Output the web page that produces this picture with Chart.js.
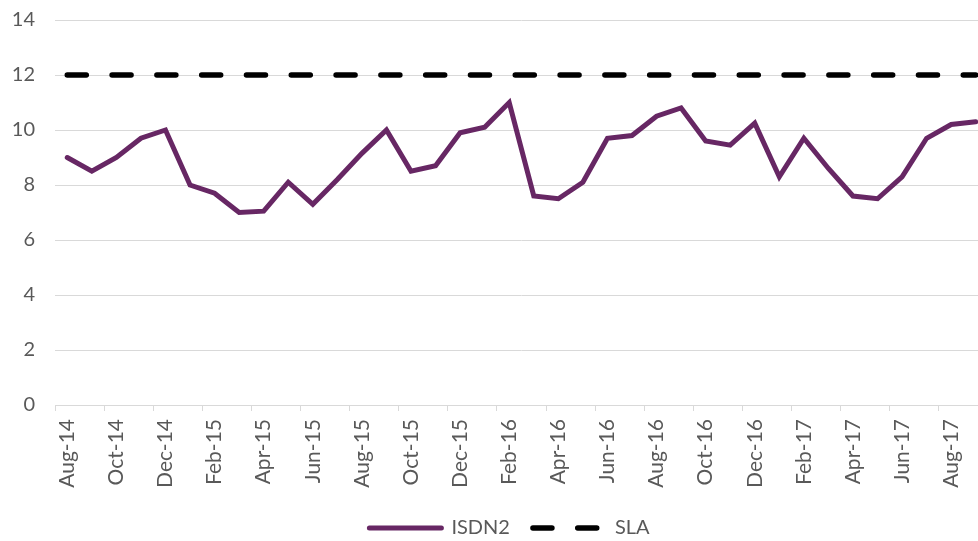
<!DOCTYPE html>
<html>
<head>
<meta charset="utf-8">
<title>ISDN2 vs SLA</title>
<script src="https://cdn.jsdelivr.net/npm/chart.js@4/dist/chart.umd.min.js"></script>
<style>
  html, body { margin: 0; padding: 0; background: #ffffff; }
  #frame { width: 978px; height: 541px; overflow: hidden; position: relative; background: #ffffff; }
  #chart { position: absolute; left: 0; top: 0; }
</style>
</head>
<body>
<div id="frame"><canvas id="chart" width="1019" height="548"></canvas></div>
<script>
// Monthly categories, Aug-14 through Sep-17
const months = [
  'Aug-14','Sep-14','Oct-14','Nov-14','Dec-14',
  'Jan-15','Feb-15','Mar-15','Apr-15','May-15','Jun-15','Jul-15','Aug-15','Sep-15','Oct-15','Nov-15','Dec-15',
  'Jan-16','Feb-16','Mar-16','Apr-16','May-16','Jun-16','Jul-16','Aug-16','Sep-16','Oct-16','Nov-16','Dec-16',
  'Jan-17','Feb-17','Mar-17','Apr-17','May-17','Jun-17','Jul-17','Aug-17','Sep-17'
];

// ISDN2 monthly values
const isdn2 = [
  9.0, 8.5, 9.0, 9.7, 10.0,
  8.0, 7.7, 7.0, 7.05, 8.1, 7.3, 8.2, 9.15, 10.0, 8.5, 8.7, 9.9,
  10.1, 11.0, 7.6, 7.5, 8.1, 9.7, 9.8, 10.5, 10.8, 9.6, 9.45, 10.25,
  8.3, 9.7, 8.6, 7.6, 7.5, 8.3, 9.7, 10.2, 10.3
];

// Service level target
const slaLevel = 12;
const sla = months.map(() => slaLevel);

// Value axis ticks
const yMin = 0;
const yMax = 14;
const yStep = 2;

const textColor = '#595959';
const gridColor = '#d9d9d9';
const fontFamily = 'Lato, "Open Sans", sans-serif';

new Chart(document.getElementById('chart'), {
  type: 'line',
  data: {
    labels: months,
    datasets: [
      {
        label: 'ISDN2',
        data: isdn2,
        borderColor: '#672764',
        backgroundColor: '#672764',
        borderWidth: 5,
        borderCapStyle: 'round',
        pointRadius: 0,
        tension: 0,
        fill: false
      },
      {
        label: 'SLA',
        data: sla,
        borderColor: '#000000',
        backgroundColor: '#000000',
        borderWidth: 5.5,
        borderDash: [19, 25.8],
        borderCapStyle: 'round',
        pointRadius: 0,
        tension: 0,
        fill: false
      }
    ]
  },
  options: {
    responsive: false,
    animation: false,
    devicePixelRatio: 1,
    layout: { padding: { top: 20, left: 0, right: 0, bottom: 0 } },
    plugins: {
      tooltip: { enabled: false },
      legend: {
        position: 'bottom',
        align: 'center',
        labels: {
          usePointStyle: true,
          pointStyle: 'line',
          pointStyleWidth: 72,
          boxHeight: 20,
          padding: 23,
          color: textColor,
          font: { family: fontFamily, size: 20 },
          // legend samples carry the line's own dash, width and caps
          generateLabels: chart => {
            const items = Chart.defaults.plugins.legend.labels.generateLabels(chart);
            items.forEach(item => {
              const ds = chart.data.datasets[item.datasetIndex];
              item.lineDash = ds.borderDash || [];
              item.lineCap = ds.borderCapStyle || 'butt';
              item.lineWidth = ds.borderWidth;
              item.strokeStyle = ds.borderColor;
            });
            return items;
          }
        }
      }
    },
    scales: {
      x: {
        type: 'category',
        offset: true,
        grid: {
          offset: true,
          drawOnChartArea: false,
          drawTicks: true,
          tickLength: 6,
          color: ctx => (ctx.index % 2 === 0 ? gridColor : 'rgba(0,0,0,0)')
        },
        border: { display: true, color: gridColor, width: 1 },
        ticks: {
          autoSkip: false,
          minRotation: 90,
          maxRotation: 90,
          padding: 8,
          color: textColor,
          font: { family: fontFamily, size: 21 },
          callback: (value, index) => (index % 2 === 0 ? months[index] : '')
        },
        afterFit: scale => { scale.height = 90; }
      },
      y: {
        min: yMin,
        max: yMax,
        grid: { color: gridColor, lineWidth: 1, drawTicks: false },
        border: { display: false },
        ticks: {
          stepSize: yStep,
          padding: 20,
          color: textColor,
          font: { family: fontFamily, size: 20 }
        },
        afterFit: scale => {
          scale.width = 55;
          scale.paddingTop = 0;
          scale.paddingBottom = 0;
        }
      },
      // empty spacer on the right so the plot runs past the visible frame
      spacer: {
        type: 'linear',
        position: 'right',
        display: true,
        grid: { display: false },
        border: { display: false },
        ticks: { display: false },
        afterFit: scale => { scale.width = 31; }
      }
    }
  }
});
</script>
</body>
</html>
